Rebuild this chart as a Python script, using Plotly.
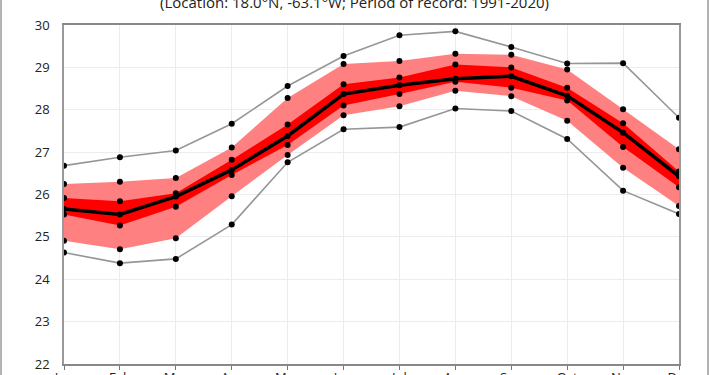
import plotly.graph_objects as go

months = ["Jan", "Feb", "Mar", "Apr", "May", "Jun", "Jul", "Aug", "Sep", "Oct", "Nov", "Dec"]
max_vals = [26.68, 26.88, 27.04, 27.67, 28.56, 29.27, 29.76, 29.85, 29.48, 29.09, 29.10, 27.81]
upper_light = [26.25, 26.30, 26.39, 27.11, 28.28, 29.08, 29.15, 29.32, 29.30, 28.95, 28.01, 27.07]
upper_dark = [25.92, 25.84, 26.03, 26.82, 27.65, 28.60, 28.76, 29.07, 29.00, 28.52, 27.68, 26.54]
mean_vals = [25.66, 25.53, 25.95, 26.58, 27.38, 28.37, 28.58, 28.73, 28.79, 28.33, 27.46, 26.43]
lower_dark = [25.53, 25.27, 25.71, 26.46, 27.17, 28.10, 28.37, 28.66, 28.52, 28.22, 27.12, 26.17]
lower_light = [24.91, 24.71, 24.97, 25.96, 26.93, 27.87, 28.08, 28.45, 28.32, 27.74, 26.63, 25.73]
min_vals = [24.63, 24.38, 24.48, 25.29, 26.76, 27.54, 27.59, 28.03, 27.97, 27.31, 26.09, 25.54]
y_ticks = [22, 23, 24, 25, 26, 27, 28, 29, 30]
subtitle = "(Location: 18.0°N, -63.1°W; Period of record: 1991-2020)"

x = list(range(len(months)))
xr = x + x[::-1]

fig = go.Figure()
fig.add_trace(go.Scatter(x=xr, y=upper_light + lower_light[::-1], fill="toself",
                         fillcolor="rgb(255,128,128)", line=dict(width=0), mode="lines",
                         hoverinfo="skip", showlegend=False))
fig.add_trace(go.Scatter(x=xr, y=upper_dark + lower_dark[::-1], fill="toself",
                         fillcolor="rgb(255,0,0)", line=dict(width=0), mode="lines",
                         hoverinfo="skip", showlegend=False))
for s in (max_vals, min_vals):
    fig.add_trace(go.Scatter(x=x, y=s, mode="lines+markers",
                             line=dict(color="rgb(150,150,150)", width=1.6),
                             marker=dict(color="black", size=6), showlegend=False))
fig.add_trace(go.Scatter(x=x, y=mean_vals, mode="lines+markers",
                         line=dict(color="black", width=3.5),
                         marker=dict(color="black", size=6), showlegend=False))
for s in (upper_light, upper_dark, lower_dark, lower_light):
    fig.add_trace(go.Scatter(x=x, y=s, mode="markers",
                             marker=dict(color="black", size=6), showlegend=False))

font = "Open Sans"
fig.update_layout(
    width=710, height=375,
    margin=dict(l=64, r=31, t=25, b=11),
    paper_bgcolor="white", plot_bgcolor="white",
    font=dict(family=font, size=13, color="#222"),
    showlegend=False,
    xaxis=dict(range=[0, 11], tickvals=x, ticktext=months, showgrid=True,
               gridcolor="#ececec", gridwidth=1, ticks="outside", ticklen=4,
               tickcolor="#777", showline=True, linecolor="#888", linewidth=1.5,
               mirror=True, zeroline=False, automargin=False, ticklabelstandoff=-3),
    yaxis=dict(range=[22, 30], tickvals=y_ticks, showgrid=True, gridcolor="#ececec",
               gridwidth=1, ticks="", showline=True, linecolor="#999", linewidth=1.5,
               mirror=True, zeroline=False, ticklabelstandoff=10, automargin=False),
    annotations=[dict(text=subtitle, xref="paper", yref="paper", x=0.473, xanchor="center",
                      y=1.031, yanchor="bottom", showarrow=False,
                      font=dict(family=font, size=15, color="#222"))],
    shapes=[dict(type="line", xref="paper", yref="paper", x0=-0.1024, x1=-0.1024,
                 y0=-0.2, y1=1.2, line=dict(color="#999", width=1.5)),
            dict(type="line", xref="paper", yref="paper", x0=1.0472, x1=1.0472,
                 y0=-0.2, y1=1.2, line=dict(color="#999", width=1.5))],
)
fig.update_xaxes(tickfont=dict(size=13))
fig.write_html("out.html", config={"displayModeBar": False},
               post_script="document.body.style.margin='0';")
